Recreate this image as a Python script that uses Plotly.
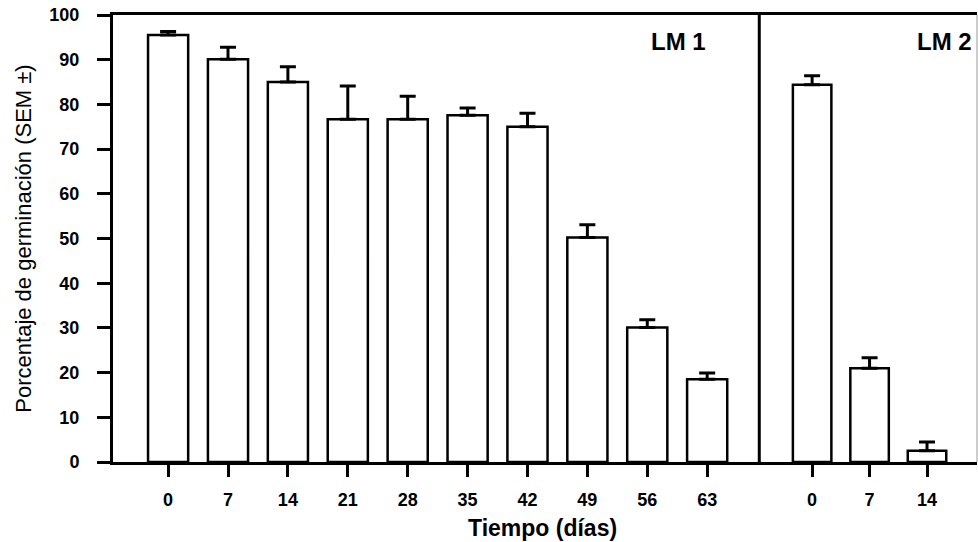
import plotly.graph_objects as go

# Germination (%) with SEM, days of storage
DAYS_LM1 = ['0', '7', '14', '21', '28', '35', '42', '49', '56', '63']
GERM_LM1 = [95.5, 90.1, 85.0, 76.7, 76.7, 77.6, 75.0, 50.2, 30.1, 18.5]
SEM_LM1 = [0.8, 2.7, 3.4, 7.4, 5.1, 1.6, 3.0, 2.9, 1.7, 1.4]

DAYS_LM2 = ['0', '7', '14']
GERM_LM2 = [84.4, 21.0, 2.5]
SEM_LM2 = [2.0, 2.3, 2.0]

FONT = 'Liberation Sans, Arial, sans-serif'
SPLIT = 0.748  # where LM 1 panel ends (paper fraction)


def _bar(x, y, err, xaxis):
    return go.Bar(
        x=x, y=y,
        xaxis=xaxis, yaxis='y',
        marker=dict(color='white', line=dict(color='black', width=2.5)),
        error_y=dict(
            type='data', array=err, arrayminus=[0] * len(err),
            symmetric=False, color='black', thickness=3, width=8,
        ),
        showlegend=False,
    )


fig = go.Figure()
fig.add_trace(_bar(DAYS_LM1, GERM_LM1, SEM_LM1, 'x'))
fig.add_trace(_bar(DAYS_LM2, GERM_LM2, SEM_LM2, 'x2'))

tick_font = dict(family=FONT, size=18, color='black', weight='bold')
xaxis_common = dict(
    type='category',
    showline=True, linecolor='black', linewidth=3, mirror=True,
    ticks='outside', ticklen=12, tickwidth=2.5, tickcolor='black',
    tickfont=tick_font, ticklabelstandoff=7,
    showgrid=False, zeroline=False, anchor='y',
)

fig.update_layout(
    width=978, height=542,
    paper_bgcolor='white', plot_bgcolor='white',
    margin=dict(l=113, r=1, t=15, b=80),
    bargap=0.33,
    font=dict(family=FONT, color='black'),
    xaxis=dict(xaxis_common, domain=[0, SPLIT], range=[-0.92, 9.87]),
    xaxis2=dict(xaxis_common, domain=[SPLIT, 1], range=[-0.92, 2.87]),
    yaxis=dict(
        range=[0, 100], dtick=10,
        showline=True, linecolor='black', linewidth=3,
        ticks='outside', ticklen=13, tickwidth=2.5, tickcolor='black',
        tickfont=tick_font, ticklabelstandoff=14,
        showgrid=False, zeroline=False,
        title=dict(text='Porcentaje de germinación (SEM ±)',
                   font=dict(family=FONT, size=22), standoff=12),
    ),
    shapes=[
        # panel separator
        dict(type='line', xref='paper', yref='paper', x0=SPLIT, x1=SPLIT,
             y0=0, y1=1, line=dict(color='black', width=3)),
        # faint right border
        dict(type='line', xref='paper', yref='paper', x0=1, x1=1,
             y0=0, y1=1, line=dict(color='#999999', width=1)),
    ],
    annotations=[
        dict(text='LM 1', xref='paper', yref='paper', x=0.654, y=0.94,
             yanchor='middle', showarrow=False,
             font=dict(family=FONT, size=24, weight='bold')),
        dict(text='LM 2', xref='paper', yref='paper', x=0.997, y=0.94,
             xanchor='right', yanchor='middle', showarrow=False,
             font=dict(family=FONT, size=24, weight='bold')),
        dict(text='Tiempo (días)', xref='paper', yref='paper', x=0.497,
             y=-0.148, yanchor='middle', showarrow=False,
             font=dict(family=FONT, size=23, weight='bold')),
    ],
)

# drop the default 8px page margin so the 978x542 figure fills the window
fig.write_html('out.html', config={'displayModeBar': False},
               post_script="document.body.style.margin='0';")
